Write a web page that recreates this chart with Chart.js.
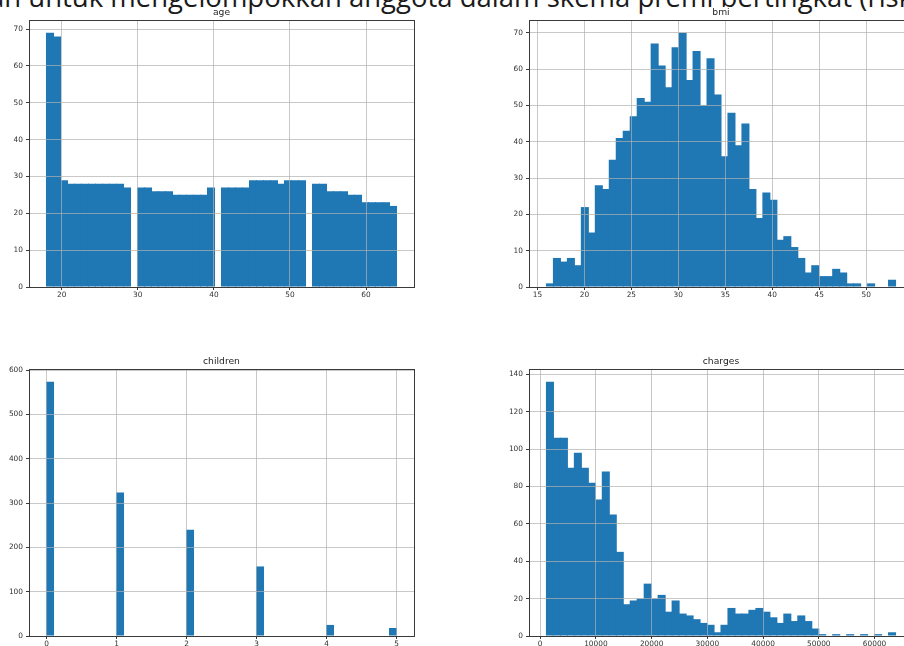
<!DOCTYPE html>
<html>
<head>
<meta charset="utf-8">
<title>Histogram</title>
<script src="https://cdn.jsdelivr.net/npm/chart.js@4.4.0/dist/chart.umd.min.js"></script>
<style>
  html, body { margin: 0; padding: 0; background: #fff; }
  body { width: 904px; height: 646px; overflow: hidden; position: relative; }
  #heading {
    position: absolute; left: -11px; top: -17px;
    font-family: "Open Sans", sans-serif; font-size: 27.5px; line-height: 27px;
    white-space: nowrap; color: #1a1a1a;
  }
  canvas { position: absolute; }
</style>
</head>
<body>
<div id="heading">an untuk mengelompokkan anggota dalam skema premi bertingkat (risk</div>
<canvas id="ageChart"></canvas>
<canvas id="bmiChart"></canvas>
<canvas id="childrenChart"></canvas>
<canvas id="chargesChart"></canvas>
<script>
// 50 bins per column (df.hist), counts per bin
const ageRange = [18, 64];
const ageCounts = [69, 68, 29, 28, 28, 28, 28, 28, 28, 28,
                   28, 27, 0, 27, 27, 26, 26, 26, 25, 25,
                   25, 25, 25, 27, 0, 27, 27, 27, 27, 29,
                   29, 29, 29, 28, 29, 29, 29, 0, 28, 28,
                   26, 26, 26, 25, 25, 23, 23, 23, 23, 22];
const ageXTicks = [20, 30, 40, 50, 60];
const ageYTicks = [0, 10, 20, 30, 40, 50, 60, 70];

const bmiRange = [15.96, 53.13];
const bmiCounts = [1, 8, 7, 8, 6, 22, 15, 28, 27, 35,
                   41, 43, 47, 52, 51, 67, 61, 55, 66, 70,
                   57, 65, 50, 63, 53, 36, 48, 39, 45, 27,
                   19, 26, 24, 13, 14, 11, 8, 4, 6, 3,
                   3, 5, 4, 1, 1, 0, 1, 0, 0, 2];
const bmiXTicks = [15, 20, 25, 30, 35, 40, 45, 50];
const bmiYTicks = [0, 10, 20, 30, 40, 50, 60, 70];

const childrenRange = [0, 5];
const childrenCounts = [574, 0, 0, 0, 0, 0, 0, 0, 0, 0,
                        324, 0, 0, 0, 0, 0, 0, 0, 0, 0,
                        240, 0, 0, 0, 0, 0, 0, 0, 0, 0,
                        157, 0, 0, 0, 0, 0, 0, 0, 0, 0,
                        25, 0, 0, 0, 0, 0, 0, 0, 0, 18];
const childrenXTicks = [0, 1, 2, 3, 4, 5];
const childrenYTicks = [0, 100, 200, 300, 400, 500, 600];

const chargesRange = [1121.87, 63770.43];
const chargesCounts = [136, 106, 106, 90, 98, 90, 82, 73, 88, 65,
                       45, 17, 19, 20, 28, 20, 22, 13, 19, 12,
                       11, 9, 7, 6, 2, 6, 15, 12, 12, 14,
                       15, 13, 10, 7, 12, 8, 11, 8, 4, 1,
                       0, 1, 0, 1, 0, 1, 0, 1, 0, 2];
const chargesXTicks = [0, 10000, 20000, 30000, 40000, 50000, 60000];
const chargesYTicks = [0, 20, 40, 60, 80, 100, 120, 140];

const barColor = '#1f77b4';
const gridColor = 'rgba(176,176,176,0.7)';
const spineColor = '#3a3a3a';
const tickFont = { family: 'DejaVu Sans', size: 7.4 };

// stroke all four spines like matplotlib
const framePlugin = {
  id: 'frame',
  afterDraw(chart) {
    const a = chart.chartArea;
    const c = chart.ctx;
    c.save();
    c.strokeStyle = spineColor;
    c.lineWidth = 1;
    c.strokeRect(Math.round(a.left) + 0.5, Math.round(a.top) + 0.5,
                 Math.round(a.right - a.left), Math.round(a.bottom - a.top));
    c.restore();
  }
};

function drawHist(id, title, range, counts, xTicks, yTicks, box) {
  const sideW = 40, titleH = 12, xH = 20;
  const canvas = document.getElementById(id);
  canvas.width = box.right - box.left + 2 * sideW;
  canvas.height = box.bottom - box.top + titleH + xH;
  canvas.style.left = (box.left - sideW) + 'px';
  canvas.style.top = (box.top - titleH) + 'px';

  const nBins = counts.length;
  const w = (range[1] - range[0]) / nBins;
  const points = counts.map((c, i) => ({ x: range[0] + w * (i + 0.5), y: c }));
  const margin = (range[1] - range[0]) * 0.05;
  const yMax = Math.max(...counts) * 1.05;

  new Chart(canvas, {
    type: 'bar',
    data: {
      datasets: [{
        data: points,
        backgroundColor: barColor,
        borderWidth: 0,
        barPercentage: 1.15,   // slight overlap so no seams between bins
        categoryPercentage: 1,
        yAxisID: 'y'
      }]
    },
    options: {
      responsive: false,
      animation: false,
      events: [],
      layout: { autoPadding: false, padding: 0 },
      plugins: {
        legend: { display: false },
        tooltip: { enabled: false },
        title: {
          display: true,
          text: title,
          color: '#262626',
          font: { family: 'DejaVu Sans', size: 9.2, weight: 'normal', lineHeight: 1 },
          padding: { top: 0, bottom: 2.8 }
        }
      },
      scales: {
        x: {
          type: 'linear',
          offset: false,
          min: range[0] - margin,
          max: range[1] + margin,
          afterBuildTicks: s => { s.ticks = xTicks.map(v => ({ value: v })); },
          afterFit: s => { s.height = xH; },
          ticks: { font: tickFont, color: '#333', padding: 1, maxRotation: 0, autoSkip: false,
                   callback: v => String(v) },
          grid: { offset: false, z: 1, color: gridColor, lineWidth: 1,
                  tickLength: 3, tickColor: spineColor },
          border: { display: false }
        },
        y: {
          min: 0,
          max: yMax,
          afterBuildTicks: s => { s.ticks = yTicks.map(v => ({ value: v })); },
          afterFit: s => { s.width = sideW; },
          ticks: { font: tickFont, color: '#333', padding: 3, autoSkip: false,
                   callback: v => String(v) },
          grid: { z: 1, color: gridColor, lineWidth: 1,
                  tickLength: 3, tickColor: spineColor },
          border: { display: false }
        },
        // empty right-hand spacer so the title is centred over the axes
        yRight: {
          position: 'right',
          afterFit: s => { s.width = sideW; },
          ticks: { display: false },
          grid: { display: false },
          border: { display: false }
        }
      }
    },
    plugins: [framePlugin]
  });
}

drawHist('ageChart', 'age', ageRange, ageCounts, ageXTicks, ageYTicks,
         { left: 29, top: 20, right: 414, bottom: 287 });
drawHist('bmiChart', 'bmi', bmiRange, bmiCounts, bmiXTicks, bmiYTicks,
         { left: 529, top: 20, right: 913, bottom: 287 });
drawHist('childrenChart', 'children', childrenRange, childrenCounts, childrenXTicks, childrenYTicks,
         { left: 29, top: 369, right: 414, bottom: 636 });
drawHist('chargesChart', 'charges', chargesRange, chargesCounts, chargesXTicks, chargesYTicks,
         { left: 529, top: 369, right: 913, bottom: 636 });
</script>
</body>
</html>
